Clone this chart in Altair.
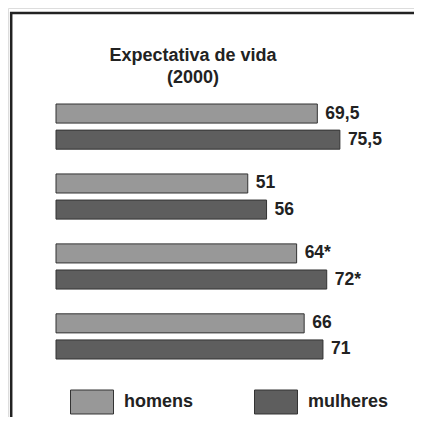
import altair as alt
import pandas as pd

grupos = ["g1", "g1", "g2", "g2", "g3", "g3", "g4", "g4"]
sexo = ["homens", "mulheres", "homens", "mulheres", "homens", "mulheres", "homens", "mulheres"]
valores = [69.5, 75.5, 51, 56, 64, 72, 66, 71]
rotulos = ["69,5", "75,5", "51", "56", "64*", "72*", "66", "71"]
legenda = ["homens", "mulheres"]
cores = ["#989898", "#5e5e5e"]
titulo = ["Expectativa de vida", "(2000)"]

df = pd.DataFrame({"grupo": grupos, "sexo": sexo, "valor": valores, "rotulo": rotulos})

FONT = "Liberation Sans"

x = alt.X("valor:Q", scale=alt.Scale(domain=[0, 100], range=[48, 424]), axis=None)
y = alt.Y("grupo:N", sort=None, axis=None,
          scale=alt.Scale(range=[96, 351], paddingInner=0.354, paddingOuter=0))
yo = alt.YOffset("sexo:N", sort=legenda,
                 scale=alt.Scale(paddingInner=0.27, paddingOuter=0))
color = alt.Color(
    "sexo:N",
    scale=alt.Scale(domain=legenda, range=cores),
    legend=alt.Legend(
        title=None, orient="none", legendX=62, legendY=372, direction="horizontal",
        symbolType="M-1,-0.558H1V0.558H-1Z", symbolSize=1849,
        symbolStrokeColor="#333333", symbolStrokeWidth=1, symbolOpacity=1,
        labelFontSize=18, labelFont=FONT, labelFontWeight="bold", labelColor="#222222",
        labelOffset=10, columnPadding=58, padding=0,
    ),
)

base = alt.Chart(df)
bars = base.mark_bar(stroke="#333333", strokeWidth=1, opacity=1).encode(x=x, y=y, yOffset=yo, color=color)
labels = base.mark_text(align="left", baseline="middle", dx=8, fontSize=17.5, fontWeight="bold",
                        font=FONT, color="#222222").encode(x=x, y=y, yOffset=yo, text="rotulo:N")

frame_df = pd.DataFrame({"a": [0]})
top_line = alt.Chart(frame_df).mark_rule(color="#222222", strokeWidth=2.5).encode(
    x=alt.value(2), x2=alt.value(420), y=alt.value(5))
left_line = alt.Chart(frame_df).mark_rule(color="#222222", strokeWidth=2.5).encode(
    x=alt.value(3.2), y=alt.value(4), y2=alt.value(420))

chart = alt.layer(top_line, left_line, bars, labels).properties(
    width=406, height=409, padding=0, autosize=alt.AutoSizeParams(type="none"),
    title=alt.TitleParams(titulo, fontSize=18, font=FONT, fontWeight="bold", color="#222222",
                          anchor="middle", dx=-18, dy=83, lineHeight=22),
).configure_view(stroke=None).configure(background="white")

chart.save("out.html", embed_options={"renderer": "svg", "actions": False})
